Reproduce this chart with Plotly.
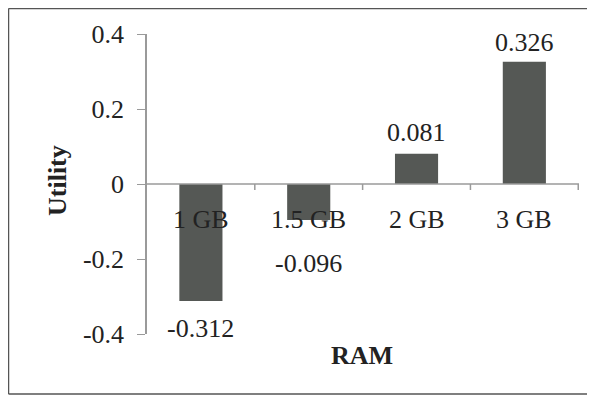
import plotly.graph_objects as go

categories = ["1 GB", "1.5 GB", "2 GB", "3 GB"]
utility = [-0.312, -0.096, 0.081, 0.326]
value_labels = ["-0.312", "-0.096", "0.081", "0.326"]
y_ticks = [-0.4, -0.2, 0, 0.2, 0.4]
y_tick_text = ["-0.4", "-0.2", "0", "0.2", "0.4"]

FONT = "Liberation Serif, Times New Roman, serif"
TXT = "#222222"
BAR = "#555855"
AX = "#9a9a9a"
FS = 26

OFF = 8  # page body margin
W, H = 595 - OFF, 397 - OFF
PX0, PX1, PY0, PY1 = 147, 579, 34, 334  # plot area in window pixels
L, R, T, B = PX0 - OFF, W - (PX1 - OFF), PY0 - OFF, H - (PY1 - OFF)
pw, ph = PX1 - PX0, PY1 - PY0


def px(x):
    return (x - PX0) / pw


def py(y):
    return (PY1 - y) / ph


fig = go.Figure()
fig.add_trace(go.Bar(
    x=categories, y=utility,
    marker=dict(color=BAR, line=dict(width=0)),
    width=0.4,
    hoverinfo="x+y",
))

# data value labels
shifts = [-27, -43, 21, 19]
for c, v, t, s in zip(categories, utility, value_labels, shifts):
    fig.add_annotation(x=c, y=v, text=t, showarrow=False, yshift=s, yanchor="middle",
                       font=dict(family=FONT, size=FS, color=TXT))

# category labels next to the zero axis
for c in categories:
    fig.add_annotation(x=c, y=0, text=c, showarrow=False, yanchor="middle", yshift=-35,
                       font=dict(family=FONT, size=FS, color=TXT))

# horizontal axis at zero with category boundary ticks
fig.add_shape(type="line", xref="paper", yref="y", x0=0, x1=1, y0=0, y1=0,
              line=dict(color=AX, width=1.5))
for i in range(1, len(categories) + 1):
    fig.add_shape(type="line", xref="x", yref="y", x0=i - 0.5, x1=i - 0.5,
                  ysizemode="pixel", yanchor=0, y0=0, y1=-6,
                  line=dict(color=AX, width=1.5))

# axis titles
fig.add_annotation(xref="paper", yref="paper", x=px(362), y=py(355),
                   text="<b>RAM</b>", showarrow=False, xanchor="center", yanchor="middle",
                   font=dict(family=FONT, size=FS, color=TXT))
fig.add_annotation(xref="paper", yref="paper", x=px(57), y=py(181),
                   text="<b>Utility</b>", showarrow=False, xanchor="center", yanchor="middle",
                   textangle=-90, font=dict(family=FONT, size=FS, color=TXT))

# outer frame: left, top and bottom edges (right edge lies beyond the image)
frame = dict(color="#555555", width=1.5)
fig.add_shape(type="line", xref="paper", yref="paper", x0=px(8.5), x1=px(8.5),
              y0=py(394), y1=py(8.5), line=frame)
fig.add_shape(type="line", xref="paper", yref="paper", x0=px(8.5), x1=px(600),
              y0=py(8.5), y1=py(8.5), line=frame)
fig.add_shape(type="line", xref="paper", yref="paper", x0=px(8.5), x1=px(600),
              y0=py(394), y1=py(394), line=frame)

fig.update_layout(
    width=W, height=H,
    margin=dict(l=L, r=R, t=T, b=B, autoexpand=False),
    paper_bgcolor="white", plot_bgcolor="white",
    showlegend=False,
    bargap=0.6,
    xaxis=dict(showticklabels=False, showline=False, showgrid=False, zeroline=False,
               automargin=False),
    yaxis=dict(range=[-0.4, 0.4], tickvals=y_ticks, ticktext=y_tick_text,
               showline=True, linecolor=AX, linewidth=1.5,
               ticks="outside", ticklen=8, tickcolor=AX,
               showgrid=False, zeroline=False, automargin=False,
               ticklabelstandoff=8,
               tickfont=dict(family=FONT, size=FS, color=TXT)),
)

fig.write_html(
    "out.html",
    post_script="document.documentElement.style.overflow='hidden';"
                "document.body.style.overflow='hidden';",
)
